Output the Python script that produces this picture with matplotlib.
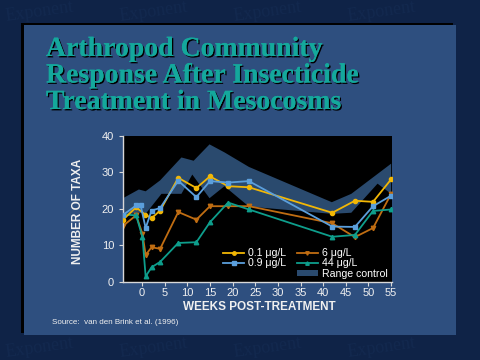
import matplotlib
matplotlib.use("Agg")
import matplotlib.pyplot as plt
from matplotlib.patches import Rectangle
from matplotlib.lines import Line2D
import matplotlib.patheffects as pe

# ---------------- data ----------------
weeks_01 = [-4.2, -1.3, 0.7, 2.1, 4.0, 8.0, 12.0, 15.0, 19.0, 23.6, 42.0, 47.0, 51.0, 55.0]
taxa_01 = [17.0, 20.4, 18.4, 17.4, 19.5, 28.5, 25.7, 28.9, 26.2, 25.9, 18.9, 22.2, 21.9, 28.1]

weeks_09 = [-4.2, -1.3, -0.3, 0.8, 2.1, 4.0, 8.0, 12.0, 15.0, 19.0, 23.6, 42.0, 47.0, 51.0, 55.0]
taxa_09 = [18.3, 20.9, 20.9, 14.7, 19.5, 20.2, 27.7, 23.2, 27.6, 27.2, 27.6, 15.1, 15.0, 20.7, 23.6]

weeks_6 = [-4.2, -1.3, 0.1, 0.8, 2.1, 4.0, 8.0, 12.0, 15.0, 19.0, 23.6, 42.0, 47.0, 51.0, 55.0]
taxa_6 = [15.3, 18.2, 13.1, 7.3, 9.4, 9.0, 19.1, 17.0, 20.7, 20.7, 20.7, 16.0, 12.2, 14.7, 24.1]

weeks_44 = [-4.2, -1.3, 0.1, 0.8, 2.1, 4.0, 8.0, 12.0, 15.0, 19.0, 23.6, 42.0, 47.0, 51.0, 55.0]
taxa_44 = [18.4, 18.2, 12.2, 1.4, 3.9, 5.4, 10.6, 10.8, 16.3, 21.7, 19.8, 12.3, 12.8, 19.4, 19.8]

ctrl_upper_weeks = [-4.2, -0.7, 0.8, 4.0, 8.7, 11.4, 14.9, 18.2, 23.6, 41.9, 46.2, 55.0]
ctrl_upper = [22.9, 25.3, 24.8, 27.8, 34.1, 33.2, 37.7, 35.5, 31.5, 21.8, 24.1, 32.4]
ctrl_lower_weeks = [-4.2, -0.7, 0.8, 4.3, 8.7, 11.1, 14.9, 18.2, 23.6, 41.9, 46.2, 52.0, 55.0]
ctrl_lower = [18.3, 18.9, 18.6, 24.1, 24.1, 29.4, 22.9, 26.2, 20.6, 18.6, 18.9, 26.9, 24.1]

x_ticks = [0, 5, 10, 15, 20, 25, 30, 35, 40, 45, 50, 55]
y_ticks = [0, 10, 20, 30, 40]

title_lines = ["Arthropod Community", "Response After Insecticide", "Treatment in Mesocosms"]

# ---------------- figure ----------------
W, H = 480, 360
fig = plt.figure(figsize=(4.8, 3.6), dpi=100)
fig.patch.set_facecolor("#0f2347")

def px(x, y):
    return (x / W, 1 - y / H)

# faint watermark
for yy in [12, 348]:
    for xx in [4, 118, 232, 346]:
        fig.text(*px(xx, yy), "Exponent", fontsize=13, family="Liberation Serif",
                 color="#13294f", rotation=8, ha="left", va="center", zorder=0)

# panel shadow + panel
fig.patches.append(Rectangle(px(21, 333), 432 / W, 310 / H, transform=fig.transFigure,
                             facecolor="black", edgecolor="none", zorder=1))
fig.patches.append(Rectangle(px(24, 335), 432 / W, 310 / H, transform=fig.transFigure,
                             facecolor="#2e4f7f", edgecolor="none", zorder=1))

# title
for i, line in enumerate(title_lines):
    fig.text(*px(46, 56 + i * 26.5), line, fontsize=20, family="Liberation Serif",
             fontweight="bold", color="#14a89c", ha="left", va="baseline", zorder=3,
             path_effects=[pe.withSimplePatchShadow(offset=(1.0, -1.0), shadow_rgbFace="black", alpha=1.0),
                           pe.Normal()])

# axes
ax = fig.add_axes([123 / W, (360 - 281.5) / H, (392.5 - 123) / W, (281.5 - 136) / H])
ax.set_zorder(3)
ax.set_facecolor("black")

ctrl_x = ctrl_upper_weeks + ctrl_lower_weeks[::-1]
ctrl_y = ctrl_upper + ctrl_lower[::-1]
ax.fill(ctrl_x, ctrl_y, color="#2a4a6e", lw=0, zorder=1)

c01, c09, c6, c44 = "#f2b705", "#5b9fdc", "#c06d12", "#0e9e8c"
ax.plot(weeks_01, taxa_01, color=c01, marker="o", ms=3, lw=1.3, zorder=3)
ax.plot(weeks_09, taxa_09, color=c09, marker="s", ms=3.2, lw=1.3, zorder=4)
ax.plot(weeks_6, taxa_6, color=c6, marker="v", ms=3.2, lw=1.3, zorder=2)
ax.plot(weeks_44, taxa_44, color=c44, marker="^", ms=3.2, lw=1.3, zorder=2)

ax.set_xlim(-4.2, 55.3)
ax.set_ylim(0, 40)
ax.set_xticks(x_ticks)
ax.set_yticks(y_ticks)
for s in ["top", "right"]:
    ax.spines[s].set_visible(False)
for s in ["left", "bottom"]:
    ax.spines[s].set_color("#d8d8d8")
    ax.spines[s].set_linewidth(1.0)
ax.tick_params(axis="both", colors="#d8d8d8", labelcolor="#f0f0f0", labelsize=8, length=3, width=0.8)
ax.tick_params(axis="x", pad=2)
for lab in ax.get_xticklabels() + ax.get_yticklabels():
    lab.set_family("Liberation Sans")

# legend
handles = [
    Line2D([], [], color=c01, marker="o", ms=2.5, lw=1.3),
    Line2D([], [], color=c09, marker="s", ms=2.5, lw=1.3),
    Line2D([], [], color="none"),
    Line2D([], [], color=c6, marker="v", ms=2.5, lw=1.3),
    Line2D([], [], color=c44, marker="^", ms=2.5, lw=1.3),
    Rectangle((0, 0), 1, 1, facecolor="#2a4a6e", edgecolor="none"),
]
labels = ["0.1 μg/L", "0.9 μg/L", " ", "6 μg/L", "44 μg/L", "Range control"]
leg = ax.legend(handles, labels, ncol=2, loc="upper left", bbox_to_anchor=px(218, 243),
                bbox_transform=fig.transFigure, frameon=False,
                prop={"family": "Liberation Sans", "size": 7.6}, labelspacing=0.02,
                handlelength=2.0, handleheight=0.6, handletextpad=0.35, columnspacing=1.0, borderpad=0)
for t in leg.get_texts():
    t.set_color("white")

# axis labels
fig.text(*px(78, 211), "NUMBER OF TAXA", rotation=90, ha="center", va="center",
         family="Liberation Sans", fontweight="bold", fontsize=8.5, color="#f0f0f0", zorder=3)
fig.text(*px(259, 307), "WEEKS POST-TREATMENT", ha="center", va="center",
         family="Liberation Sans", fontweight="bold", fontsize=8.5, color="#f0f0f0", zorder=3)
fig.text(*px(52, 322), "Source:  van den Brink et al. (1996)", ha="left", va="center",
         family="Liberation Sans", fontsize=5.8, color="#f0f0f0", zorder=3)

fig.savefig("out.png", dpi=100, facecolor=fig.get_facecolor())
